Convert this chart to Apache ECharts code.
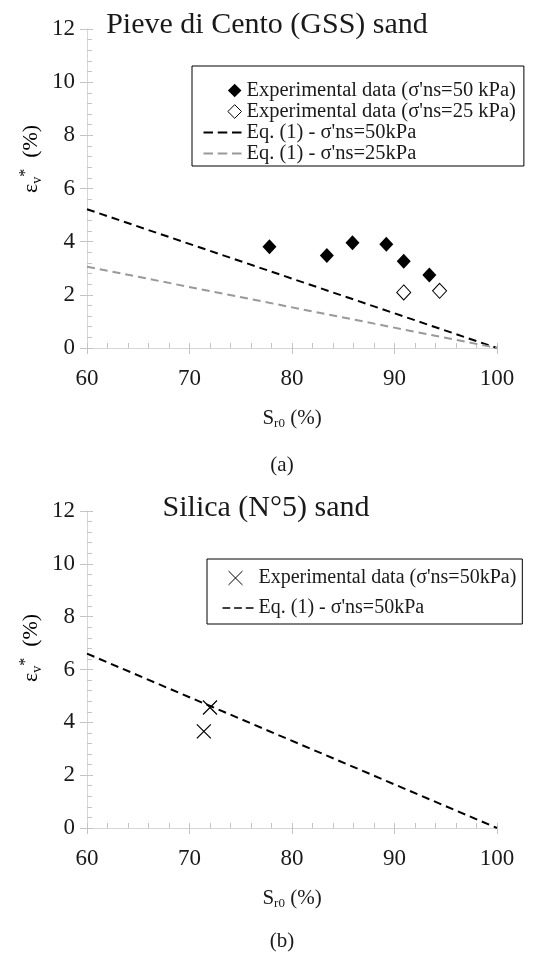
<!DOCTYPE html>
<html>
<head>
<meta charset="utf-8">
<script src="https://cdn.jsdelivr.net/npm/echarts@6/dist/echarts.min.js"></script>
<style>html,body{margin:0;padding:0;background:#fff;}#c{width:558px;height:955px;}</style>
</head>
<body>
<div id="c"></div>
<script>
// ---- data ----
const eqX = [60, 100];
const pieveX50 = [77.8, 83.4, 85.9, 89.2, 90.9, 93.4];
const pieveY50 = [3.81, 3.48, 3.96, 3.90, 3.26, 2.75];
const pieveX25 = [90.9, 94.4];
const pieveY25 = [2.09, 2.15];
const pieveEq50 = [5.22, 0];
const pieveEq25 = [3.06, 0];
const silicaX = [71.4, 72.0];
const silicaY = [3.66, 4.56];
const silicaEq50 = [6.6, 0];
const xTicks = {min: 60, max: 100, interval: 10};
const yTicks = {min: 0, max: 12, interval: 2};
const titles = ['Pieve di Cento (GSS) sand', 'Silica (N°5) sand'];
const panelLabels = ['(a)', '(b)'];
const names = {
  exp50a: "Experimental data (σ'ns=50 kPa)",
  exp25a: "Experimental data (σ'ns=25 kPa)",
  eq50: "Eq. (1) - σ'ns=50kPa",
  eq25: "Eq. (1) - σ'ns=25kPa",
  exp50b: "Experimental data (σ'ns=50kPa)"
};

const zip = (xs, ys) => xs.map((x, i) => [x, ys[i]]);
const FF = "'Liberation Serif','Times New Roman',serif";
const TXT = '#1a1a1a';
const AX = '#d6d6d6';
const TK = '#c4c4c4';

const grids = [
  {left: 87, top: 29, width: 410, height: 319},
  {left: 87, top: 511, width: 410, height: 317}
];

const subRich = {
  m: {fontSize: 21, fontFamily: FF, color: TXT, lineHeight: 24},
  s: {fontSize: 13, fontFamily: FF, color: TXT, lineHeight: 14, verticalAlign: 'bottom'},
  sup: {fontSize: 15, fontFamily: FF, color: TXT, lineHeight: 14, verticalAlign: 'top'}
};
const yRich = {
  m: {fontSize: 22, fontFamily: FF, color: TXT, lineHeight: 26},
  s: {fontSize: 14, fontFamily: FF, color: TXT, lineHeight: 15, verticalAlign: 'bottom'},
  sup: {fontSize: 16, fontFamily: FF, color: TXT, lineHeight: 15, verticalAlign: 'top'}
};

const xAxes = [], yAxes = [];
grids.forEach((g, gi) => {
  xAxes.push({
    type: 'value', gridIndex: gi, position: 'bottom', min: xTicks.min, max: xTicks.max, interval: xTicks.interval,
    axisLine: {show: true, onZero: false, lineStyle: {color: AX, width: 1}},
    axisTick: {show: true, length: 6, lineStyle: {color: TK}},
    axisLabel: {fontSize: 23, fontFamily: FF, color: TXT, margin: 19},
    splitLine: {show: false},
    name: '{m|S}{s|r0}{m| (%)}', nameLocation: 'middle', nameGap: 58,
    nameTextStyle: {rich: subRich}
  });
  xAxes.push({
    type: 'value', gridIndex: gi, position: 'bottom', min: xTicks.min, max: xTicks.max, interval: xTicks.interval,
    axisLine: {show: false, onZero: false},
    axisTick: {show: true, inside: true, length: 5, lineStyle: {color: TK}},
    minorTick: {show: true, splitNumber: 5, length: 5, lineStyle: {color: TK}},
    axisLabel: {show: false}, splitLine: {show: false}
  });
  yAxes.push({
    type: 'value', gridIndex: gi, position: 'left', min: yTicks.min, max: yTicks.max, interval: yTicks.interval,
    axisLine: {show: true, onZero: false, lineStyle: {color: AX, width: 1}},
    axisTick: {show: true, length: 7, lineStyle: {color: TK}},
    axisLabel: {fontSize: 23, fontFamily: FF, color: TXT, margin: 12},
    splitLine: {show: false}
  });
  yAxes.push({
    type: 'value', gridIndex: gi, position: 'left', min: yTicks.min, max: yTicks.max, interval: yTicks.interval,
    axisLine: {show: false, onZero: false},
    axisTick: {show: true, inside: true, length: 6, lineStyle: {color: TK}},
    minorTick: {show: true, splitNumber: 5, length: 5, lineStyle: {color: TK}},
    axisLabel: {show: false}, splitLine: {show: false}
  });
});

const dash = [8, 5];
const series = [
  {name: names.eq50, type: 'line', xAxisIndex: 0, yAxisIndex: 0, data: zip(eqX, pieveEq50), symbol: 'none',
   lineStyle: {type: dash, width: 2, color: '#000'}, itemStyle: {color: '#000'}, z: 2},
  {name: names.eq25, type: 'line', xAxisIndex: 0, yAxisIndex: 0, data: zip(eqX, pieveEq25), symbol: 'none',
   lineStyle: {type: dash, width: 2, color: '#999'}, itemStyle: {color: '#999'}, z: 2},
  {name: names.exp50a, type: 'scatter', xAxisIndex: 0, yAxisIndex: 0, data: zip(pieveX50, pieveY50),
   symbol: 'diamond', symbolSize: [14, 15], itemStyle: {color: '#000', opacity: 1}, z: 3},
  {name: names.exp25a, type: 'scatter', xAxisIndex: 0, yAxisIndex: 0, data: zip(pieveX25, pieveY25),
   symbol: 'diamond', symbolSize: [14, 15], itemStyle: {color: '#fff', borderColor: '#000', borderWidth: 1, opacity: 1}, z: 3},
  {name: names.eq50, type: 'line', xAxisIndex: 2, yAxisIndex: 2, data: zip(eqX, silicaEq50), symbol: 'none',
   lineStyle: {type: dash, width: 2, color: '#000'}, itemStyle: {color: '#000'}, z: 2},
  {name: names.exp50b, type: 'scatter', xAxisIndex: 2, yAxisIndex: 2, data: zip(silicaX, silicaY),
   symbol: 'path://M0,0L10,10M10,0L0,10', symbolSize: 14,
   itemStyle: {color: 'rgba(0,0,0,0)', borderColor: '#000', borderWidth: 1.2, opacity: 1}, z: 3}
];

// legend icons (shapes only; positioned inside the icon box)
const dashIcon = 'path://M0,0h10v2.2h-10zM15,0h10v2.2h-10zM30,0h10v2.2h-10z';
const diamondIconA = 'path://M0,7L0.01,7L0,7.01ZM25,7L32,0L39,7L32,14Z';
const crossIconB = 'path://M0,7L0.01,7M6,0L20,14M20,0L6,14M31,7L31.01,7';

const legends = [
  {orient: 'vertical', left: 192, top: 66, itemWidth: 38, itemHeight: 14, itemGap: 0,
   padding: [14, 8, 2, 11], borderColor: '#000', borderWidth: 1, selectedMode: false,
   textStyle: {fontSize: 20.5, fontFamily: FF, color: TXT, lineHeight: 20},
   data: [
     {name: names.exp50a, icon: diamondIconA, itemStyle: {borderWidth: 0, opacity: 1}},
     {name: names.exp25a, icon: diamondIconA, itemStyle: {borderWidth: 1, opacity: 1}},
     {name: names.eq50, icon: dashIcon, itemStyle: {borderWidth: 0}},
     {name: names.eq25, icon: dashIcon, itemStyle: {borderWidth: 0}}
   ]},
  {orient: 'vertical', left: 207, top: 559, itemWidth: 31, itemHeight: 14, itemGap: 10,
   padding: [9, 6, 6, 15], borderColor: '#000', borderWidth: 1, selectedMode: false,
   textStyle: {fontSize: 20, fontFamily: FF, color: TXT, lineHeight: 20},
   data: [
     {name: names.exp50b, icon: crossIconB, itemStyle: {borderWidth: 1, opacity: 1}},
     {name: names.eq50, icon: dashIcon, itemStyle: {borderWidth: 0}}
   ]}
];

const titleCfg = [
  {text: titles[0], left: 267, top: 10, textAlign: 'center', padding: 0,
   textStyle: {fontSize: 30, fontWeight: 'normal', fontFamily: FF, color: TXT}},
  {text: titles[1], left: 266, top: 493, textAlign: 'center', padding: 0,
   textStyle: {fontSize: 30, fontWeight: 'normal', fontFamily: FF, color: TXT}}
];

const yLabel = (y) => ({
  type: 'text', x: 31, y: y, rotation: Math.PI / 2,
  style: {text: '{m|ε}{s|v}{sup|*}{m|  (%)}', rich: yRich, align: 'center', verticalAlign: 'middle'}
});
const panelLabel = (t, y) => ({
  type: 'text', x: 282, y: y,
  style: {text: t, fontSize: 21, fontFamily: FF, fill: TXT, align: 'center', verticalAlign: 'middle'}
});

const chart = echarts.init(document.getElementById('c'), null, {renderer: 'canvas'});
chart.setOption({
  animation: false,
  backgroundColor: '#fff',
  title: titleCfg,
  grid: grids,
  xAxis: xAxes,
  yAxis: yAxes,
  legend: legends,
  series: series,
  graphic: [yLabel(159), yLabel(648), panelLabel(panelLabels[0], 465), panelLabel(panelLabels[1], 941)]
});
</script>
</body>
</html>
